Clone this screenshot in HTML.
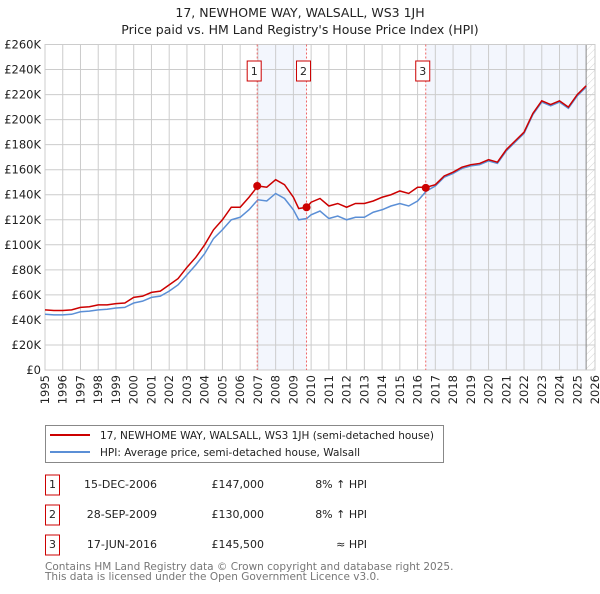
<!DOCTYPE html>
<html><head><meta charset="utf-8"><style>
body{margin:0;background:#fff;width:600px;height:590px;overflow:hidden;font-family:"DejaVu Sans","Liberation Sans",sans-serif}
svg text{font-family:"DejaVu Sans","Liberation Sans",sans-serif}
</style></head><body>
<svg id="chart" width="600" height="590" xmlns="http://www.w3.org/2000/svg">
<defs><pattern id="hatch" width="5" height="5" patternUnits="userSpaceOnUse" patternTransform="rotate(45)"><line x1="0" y1="0" x2="0" y2="5" stroke="#ccc" stroke-width="0.8"/></pattern></defs>
<text x="300" y="17" text-anchor="middle" font-size="12.5" fill="#222">17, NEWHOME WAY, WALSALL, WS3 1JH</text>
<text x="300" y="34" text-anchor="middle" font-size="12.5" fill="#222">Price paid vs. HM Land Registry's House Price Index (HPI)</text>
<g id="plot"></g>
<g>
<rect x="45.5" y="425.5" width="398" height="37" fill="#fff" stroke="#888"/>
<line x1="50" y1="435" x2="90" y2="435" stroke="#cc0000" stroke-width="2"/>
<text x="100" y="439" font-size="10.5" fill="#222">17, NEWHOME WAY, WALSALL, WS3 1JH (semi-detached house)</text>
<line x1="50" y1="452" x2="90" y2="452" stroke="#5b8fd6" stroke-width="2"/>
<text x="100" y="456" font-size="10.5" fill="#222">HPI: Average price, semi-detached house, Walsall</text>
</g>
<g id="table" font-size="11" fill="#222"></g>
<text x="45" y="570" font-size="10.5" fill="#777">Contains HM Land Registry data © Crown copyright and database right 2025.</text>
<text x="45" y="580" font-size="10.5" fill="#777">This data is licensed under the Open Government Licence v3.0.</text>
</svg>
<script>
const years=[1995,1995.5,1996,1996.5,1997,1997.5,1998,1998.5,1999,1999.5,2000,2000.5,2001,2001.5,2002,2002.5,2003,2003.5,2004,2004.5,2005,2005.5,2006,2006.5,2007,2007.5,2008,2008.5,2009,2009.3,2009.75,2010,2010.5,2011,2011.5,2012,2012.5,2013,2013.5,2014,2014.5,2015,2015.5,2016,2016.5,2017,2017.5,2018,2018.5,2019,2019.5,2020,2020.5,2021,2021.5,2022,2022.5,2023,2023.5,2024,2024.5,2025,2025.5];
const priceSeries=[48,47.5,47.5,48,50,50.5,52,52,53,53.5,58,59,62,63,68,73,82,90,100,112,120,130,130,138,147,146,152,148,138,129,130,134,137,131,133,130,133,133,135,138,140,143,141,146,146,148,155,158,162,164,165,168,166,176,183,190,205,215,212,215,210,220,227];
const hpiSeries=[44.5,44,44,44.5,46.5,47,48,48.5,49.5,50,53.5,55,58,59,63,68,76,84,93,105,112,120,122,128,136,135,141,137,128,120,121,124,127,121,123,120,122,122,126,128,131,133,131,135,143,147,154,157,161,163,164,167,165,175,182,189,204,214,211,214,209,219,226];
const yTicks=[0,20,40,60,80,100,120,140,160,180,200,220,240,260];
const xTicks=[1995,1996,1997,1998,1999,2000,2001,2002,2003,2004,2005,2006,2007,2008,2009,2010,2011,2012,2013,2014,2015,2016,2017,2018,2019,2020,2021,2022,2023,2024,2025,2026];
const saleYears=[2006.96,2009.74,2016.46];
const salePrices=[147,130,145.5];
const saleDates=["15-DEC-2006","28-SEP-2009","17-JUN-2016"];
const salePriceLabels=["£147,000","£130,000","£145,500"];
const saleHpi=["8% ↑ HPI","8% ↑ HPI","≈ HPI"];
const dataEnd=2025.5;

const NS="http://www.w3.org/2000/svg";
const X0=45,X1=595,Y0=370,Y1=44.5;
const xs=y=>X0+(y-1995)/(2026-1995)*(X1-X0);
const ys=v=>Y0-v/260*(Y0-Y1);
const plot=document.getElementById('plot');
function mk(tag,attrs,parent){const e=document.createElementNS(NS,tag);for(const k in attrs)e.setAttribute(k,attrs[k]);(parent||plot).appendChild(e);return e;}

mk('rect',{x:X0,y:Y1,width:X1-X0,height:Y0-Y1,fill:'#fff'});
const s1=mk('rect',{x:xs(saleYears[0]),y:Y1,width:xs(saleYears[1])-xs(saleYears[0]),height:Y0-Y1,fill:'#f3f6fd'});


const s2=mk('rect',{x:xs(saleYears[2]),y:Y1,width:xs(dataEnd)-xs(saleYears[2]),height:Y0-Y1,fill:'#f3f6fd'});


const h=mk('rect',{x:xs(dataEnd),y:Y1,width:X1-xs(dataEnd),height:Y0-Y1,fill:'url(#hatch)'});



yTicks.forEach(v=>{
  mk('line',{x1:X0,x2:X1,y1:ys(v),y2:ys(v),stroke:'#ccc','stroke-width':1});
  const t=mk('text',{x:X0-4,y:ys(v)+4,'text-anchor':'end','font-size':11.5,fill:'#222'});
  t.textContent='£'+v+(v?'K':'');
  
  
});
xTicks.forEach(yr=>{
  mk('line',{x1:xs(yr),x2:xs(yr),y1:Y1,y2:Y0,stroke:'#ccc','stroke-width':1});
  const t=mk('text',{x:0,y:0,'text-anchor':'end','font-size':11.5,fill:'#222',transform:`translate(${xs(yr)+4},${Y0+5}) rotate(-90)`});
  t.textContent=yr;
  
  
});
mk('line',{x1:xs(dataEnd),x2:xs(dataEnd),y1:Y1,y2:Y0,stroke:'#888','stroke-width':1});
mk('rect',{x:X0,y:Y1,width:X1-X0,height:Y0-Y1,fill:'none',stroke:'#ccc'});

const hp=mk('polyline',{points:years.map((y,i)=>xs(y)+','+ys(hpiSeries[i])).join(' '),fill:'none',stroke:'#5b8fd6','stroke-width':1.5});


const pp=mk('polyline',{points:years.map((y,i)=>xs(y)+','+ys(priceSeries[i])).join(' '),fill:'none',stroke:'#cc0000','stroke-width':1.5});



const table=document.getElementById('table');
saleYears.forEach((sy,i)=>{
  const x=xs(sy);
  mk('line',{x1:x,x2:x,y1:Y1,y2:Y0,stroke:'#e66','stroke-width':1,'stroke-dasharray':'2,2'});
  const m=mk('circle',{cx:x,cy:ys(salePrices[i]),r:4,fill:'#cc0000'});
  
  
  mk('rect',{x:x-10,y:61,width:14,height:20,fill:'#fff',stroke:'#cc0000'});
  const lt=mk('text',{x:x-3,y:75,'text-anchor':'middle','font-size':11,fill:'#222'});
  lt.textContent=String(i+1);
  
  
  const ry=483+i*30;
  mk('rect',{x:45.5,y:ry-8,width:14,height:20,fill:'#fff',stroke:'#cc0000'},table);
  const n=mk('text',{x:52.5,y:ry+5,'text-anchor':'middle'},table);n.textContent=String(i+1);
  
  
  const d=mk('text',{x:157,y:ry+5,'text-anchor':'end'},table);d.textContent=saleDates[i];
  
  
  const p=mk('text',{x:264,y:ry+5,'text-anchor':'end'},table);p.textContent=salePriceLabels[i];
  
  
  const c=mk('text',{x:367,y:ry+5,'text-anchor':'end'},table);c.textContent=saleHpi[i];
  
  
});
</script>
</body></html>
